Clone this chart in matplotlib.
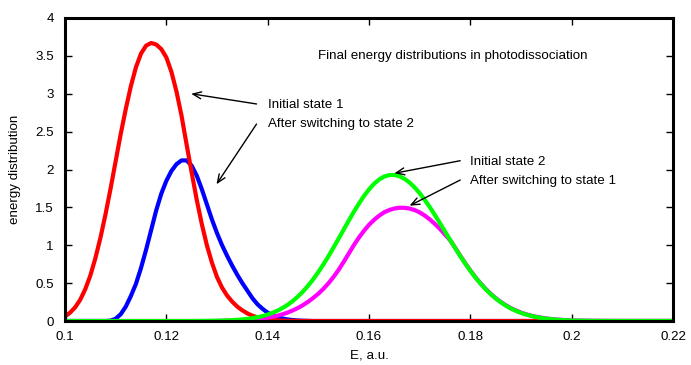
import numpy as np
import matplotlib
matplotlib.use("Agg")
import matplotlib.pyplot as plt

plt.rcParams['font.family'] = ['Liberation Sans', 'DejaVu Sans']

# Energy grid (a.u.), 0.100 .. 0.220 in steps of 0.001
E = np.round(np.arange(0.100, 0.2205, 0.001), 3)

# Read-off values; each series starts at the given energy, zero elsewhere
red_start = 0.100
red_vals = [0.06, 0.11, 0.18, 0.28, 0.42, 0.60, 0.83, 1.10, 1.41, 1.75,
            2.11, 2.47, 2.80, 3.10, 3.35, 3.53, 3.635, 3.67, 3.65, 3.59,
            3.48, 3.29, 3.03, 2.71, 2.33, 1.96, 1.60, 1.28, 1.00, 0.77,
            0.58, 0.44, 0.335, 0.255, 0.19, 0.14, 0.10, 0.07, 0.048, 0.032,
            0.021, 0.013, 0.008, 0.005, 0.003, 0.002, 0.001, 0.0]

blue_start = 0.109
blue_vals = [0.005, 0.03, 0.09, 0.19, 0.33, 0.49, 0.70, 0.94, 1.20, 1.46,
             1.68, 1.85, 1.98, 2.07, 2.12, 2.12, 2.05, 1.92, 1.74, 1.54,
             1.34, 1.16, 1.00, 0.86, 0.73, 0.61, 0.50, 0.40, 0.30, 0.22,
             0.16, 0.11, 0.075, 0.05, 0.032, 0.02, 0.012, 0.007, 0.004, 0.002, 0.0]

green_start = 0.126
green_vals = [0.0007, 0.0012, 0.002, 0.003, 0.004, 0.0056, 0.0079, 0.011, 0.015, 0.021,
              0.028, 0.038, 0.050, 0.065, 0.085, 0.109, 0.138, 0.174, 0.216, 0.266,
              0.325, 0.391, 0.468, 0.552, 0.646, 0.747, 0.855, 0.970, 1.087, 1.206,
              1.325, 1.440, 1.549, 1.649, 1.737, 1.811, 1.868, 1.907, 1.927, 1.928,
              1.911, 1.877, 1.828, 1.764, 1.687, 1.599, 1.503, 1.399, 1.292, 1.182,
              1.072, 0.963, 0.858, 0.757, 0.663, 0.574, 0.494, 0.421, 0.355, 0.298,
              0.247, 0.203, 0.165, 0.134, 0.107, 0.085, 0.067, 0.052, 0.040, 0.031,
              0.023, 0.0176, 0.013, 0.0097, 0.0071, 0.005, 0.0036, 0.0025, 0.0017, 0.0012,
              0.0008, 0.0005, 0.0003, 0.0002, 0.0001]

magenta_start = 0.130
magenta_vals = [0.0016, 0.0025, 0.0038, 0.0055, 0.008, 0.011, 0.015, 0.020, 0.027, 0.035,
                0.045, 0.057, 0.071, 0.090, 0.113, 0.141, 0.173, 0.211, 0.255, 0.305,
                0.360, 0.425, 0.498, 0.582, 0.675, 0.780, 0.890, 1.000, 1.100, 1.190,
                1.270, 1.335, 1.390, 1.435, 1.465, 1.485, 1.495, 1.494, 1.485, 1.465,
                1.434, 1.392, 1.341, 1.282, 1.215, 1.142, 1.067, 0.968, 0.863, 0.762,
                0.668, 0.579, 0.499, 0.426, 0.360, 0.303, 0.252, 0.208, 0.170, 0.139,
                0.111, 0.089, 0.071, 0.056, 0.044, 0.034, 0.026, 0.020, 0.015, 0.011,
                0.008, 0.006, 0.004, 0.003, 0.002, 0.0015, 0.001, 0.0007, 0.0005, 0.0003,
                0.0002, 0.0001, 0.0]

x_ticks = [0.1, 0.12, 0.14, 0.16, 0.18, 0.2, 0.22]
x_ticklabels = ["0.1", "0.12", "0.14", "0.16", "0.18", "0.2", "0.22"]
y_ticks = [0, 0.5, 1, 1.5, 2, 2.5, 3, 3.5, 4]
y_ticklabels = ["0", "0.5", "1", "1.5", "2", "2.5", "3", "3.5", "4"]

labels = ["Initial state 1", "After switching to state 2",
          "Initial state 2", "After switching to state 1"]
title_text = "Final energy distributions in photodissociation"


def on_grid(start, vals):
    y = np.zeros(len(E))
    i0 = int(round((start - E[0]) / 0.001))
    n = min(len(vals), len(E) - i0)
    y[i0:i0 + n] = vals[:n]
    return y


fig = plt.figure(figsize=(6.91, 3.65), dpi=100)
ax = fig.add_axes([65 / 691, 44 / 365, 608 / 691, 303 / 365])

lw = 3.0
ax.plot(E, on_grid(blue_start, blue_vals), color='#0000ff', lw=lw, solid_capstyle='butt')
ax.plot(E, on_grid(red_start, red_vals), color='#ff0000', lw=lw, solid_capstyle='butt')
ax.plot(E, on_grid(magenta_start, magenta_vals), color='#ff00ff', lw=lw, solid_capstyle='butt')
ax.plot(E, on_grid(green_start, green_vals), color='#00ff00', lw=lw, solid_capstyle='butt')

ax.set_xlim(0.1, 0.22)
ax.set_ylim(0, 4)
ax.set_xticks(x_ticks)
ax.set_xticklabels(x_ticklabels)
ax.set_yticks(y_ticks)
ax.set_yticklabels(y_ticklabels)
ax.tick_params(direction='in', length=5, width=1, top=True, right=True,
               labelsize=9.6, colors='black')
ax.tick_params(axis='x', pad=7)
ax.tick_params(axis='y', pad=8)
for s in ax.spines.values():
    s.set_linewidth(2.2)
    s.set_zorder(5)

ax.set_xlabel("E, a.u.", fontsize=9.6, labelpad=5)
ax.set_ylabel("energy distribution", fontsize=9.6, labelpad=10)

fs = 9.6
ax.text(0.15, 3.5, title_text, fontsize=fs, va='center', ha='left')
ax.text(0.14, 2.85, labels[0], fontsize=fs, va='center', ha='left')
ax.text(0.14, 2.6, labels[1], fontsize=fs, va='center', ha='left')
ax.text(0.18, 2.1, labels[2], fontsize=fs, va='center', ha='left')
ax.text(0.18, 1.85, labels[3], fontsize=fs, va='center', ha='left')

arrow_kw = dict(arrowstyle='->,head_length=0.6,head_width=0.25', color='black', lw=1.0,
                shrinkA=0, shrinkB=0)
ax.annotate("", xy=(0.1249, 3.0), xytext=(0.1378, 2.865), arrowprops=arrow_kw)
ax.annotate("", xy=(0.1299, 1.805), xytext=(0.1378, 2.60), arrowprops=arrow_kw)
ax.annotate("", xy=(0.1650, 1.95), xytext=(0.1780, 2.116), arrowprops=arrow_kw)
ax.annotate("", xy=(0.1680, 1.522), xytext=(0.1780, 1.861), arrowprops=arrow_kw)

fig.savefig("out.png", dpi=100)
